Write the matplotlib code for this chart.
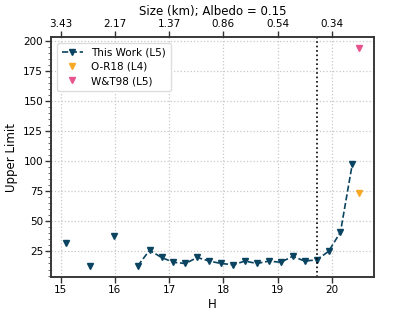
import matplotlib
matplotlib.use("Agg")
import matplotlib.pyplot as plt
import numpy as np
from matplotlib.ticker import AutoMinorLocator

# H magnitudes and upper limits (NaN = gap in the line)
h_this = [15.10, 15.32, 15.54, 15.76, 15.98, 16.20, 16.42, 16.64, 16.86, 17.08,
          17.30, 17.52, 17.74, 17.96, 18.18, 18.40, 18.62, 18.84, 19.06, 19.28,
          19.50, 19.72, 19.94, 20.16, 20.38]
lim_this = [32, np.nan, 13, np.nan, 38, np.nan, 13, 26, 20, 16,
            15, 20, 17, 15, 14, 17, 15, 17, 16, 21,
            17, 18, 25, 41, 98]

h_or18 = [20.50]
lim_or18 = [74]

h_wt98 = [20.50]
lim_wt98 = [194]

h_corte = 19.72

top_ticks = [15, 16, 17, 18, 19, 20]
top_labels = ["3.43", "2.17", "1.37", "0.86", "0.54", "0.34"]

fig = plt.figure(figsize=(4.15, 3.11), dpi=100)
ax = fig.add_axes([0.124, 0.11, 0.776, 0.77])

col_this = '#0a4461'
ax.plot(h_this, lim_this, 'v--', color=col_this, markersize=4.8, lw=1.2, label='This Work (L5)')
ax.plot(h_or18, lim_or18, 'v', color='#f9a825', markersize=4.8, ls='none', label='O-R18 (L4)')
ax.plot(h_wt98, lim_wt98, 'v', color='#e8538c', markersize=4.8, ls='none', label='W&T98 (L5)')
ax.axvline(h_corte, color='k', ls=':', lw=1.2)

ax.set_xticks([15, 16, 17, 18, 19, 20])
ax.set_yticks([25, 50, 75, 100, 125, 150, 175, 200])
ax.yaxis.set_minor_locator(AutoMinorLocator(5))
ax.grid(True, which='major', ls=':', color='#c8c8c8', lw=0.9)
ax.set_axisbelow(True)
ax.set_xlabel('H', fontsize=8.5, labelpad=2)
ax.set_ylabel('Upper Limit', fontsize=8.5, labelpad=4)
ax.tick_params(axis='both', which='major', labelsize=7.5, length=4, width=1, color='#333333', pad=2)
ax.tick_params(axis='y', which='minor', length=2, width=0.6, color='#555555')

for s in ax.spines.values():
    s.set_linewidth(1.1)
    s.set_color('#333333')

ax.legend(loc='upper left', fontsize=7.5, frameon=True, edgecolor='#dddddd', framealpha=1,
          handlelength=2.0, borderpad=0.5, labelspacing=0.4)

ax2 = ax.twiny()
ax2.set_xlim(ax.get_xlim())
ax2.set_xticks(top_ticks)
ax2.set_xticklabels(top_labels)
ax2.tick_params(axis='x', labelsize=7.5, length=4, width=1, color='#333333', pad=2)
ax2.set_xlabel('Size (km); Albedo = 0.15', fontsize=8.5, labelpad=3)
for s in ax2.spines.values():
    s.set_linewidth(1.1)
    s.set_color('#333333')

fig.savefig('out.png', dpi=100)
